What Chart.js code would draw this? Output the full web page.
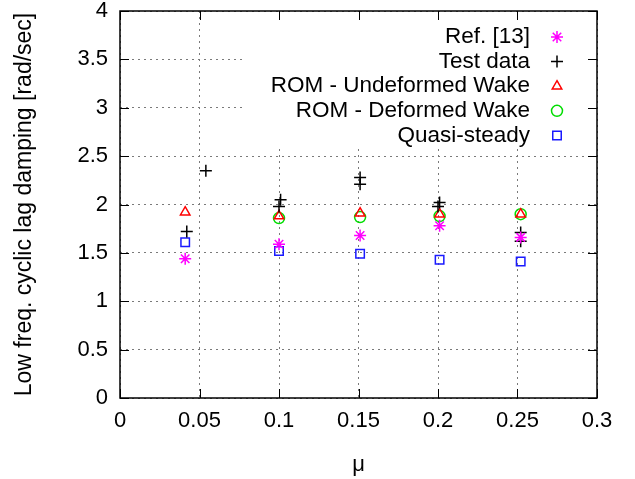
<!DOCTYPE html>
<html>
<head>
<meta charset="utf-8">
<script src="https://cdn.jsdelivr.net/npm/chart.js@4/dist/chart.umd.min.js"></script>
<style>
  body { margin: 0; background: #fff; }
  #wrap { width: 635px; height: 479px; }
</style>
</head>
<body>
<div id="wrap"><canvas id="myChart" width="635" height="479"></canvas></div>
<script>
// values
var refMu = [0.041, 0.1, 0.151, 0.201, 0.252];
var refVal = [1.44, 1.59, 1.68, 1.78, 1.66];

var testMu = [0.042, 0.054, 0.1, 0.101, 0.151, 0.151, 0.2, 0.201, 0.252, 0.252];
var testVal = [1.72, 2.35, 1.98, 2.05, 2.21, 2.28, 1.98, 2.02, 1.62, 1.71];

var romUMu = [0.041, 0.1, 0.151, 0.201, 0.252];
var romUVal = [1.92, 1.88, 1.91, 1.90, 1.90];

var romDMu = [0.1, 0.151, 0.201, 0.252];
var romDVal = [1.86, 1.87, 1.88, 1.90];

var qsMu = [0.041, 0.1, 0.151, 0.201, 0.252];
var qsVal = [1.61, 1.52, 1.49, 1.43, 1.41];

var seriesNames = ['Ref. [13]', 'Test data', 'ROM - Undeformed Wake', 'ROM - Deformed Wake', 'Quasi-steady'];

var FONT = 'Liberation Sans, Arial, Helvetica, sans-serif';

function toPoints(xs, ys) {
    var pts = [];
    for (var i = 0; i < xs.length; i++) {
        pts.push({x: xs[i], y: ys[i]});
    }
    return pts;
}

function makeSet(label, xs, ys, style, color, radius) {
    return {
        label: label,
        data: toPoints(xs, ys),
        showLine: false,
        pointStyle: style,
        pointRadius: radius,
        pointHoverRadius: radius,
        pointBorderWidth: 1.5,
        borderColor: color,
        backgroundColor: 'rgba(0,0,0,0)'
    };
}

// legend box like gnuplot's opaque key, plus inward ticks and the frame
var gnuplotLook = {
    id: 'gnuplotLook',
    beforeDatasetsDraw: function(chart) {
        var ctx = chart.ctx;
        var a = chart.chartArea;
        ctx.save();
        ctx.fillStyle = '#fff';
        ctx.fillRect(246, a.top + 1, a.right - 247, 137);
        ctx.restore();
    },
    afterDraw: function(chart) {
        var ctx = chart.ctx;
        var a = chart.chartArea;
        var xs = chart.scales.x, ys = chart.scales.y;
        ctx.save();
        ctx.strokeStyle = '#000';
        ctx.lineWidth = 1;
        ctx.beginPath();
        xs.ticks.forEach(function(t) {
            var px = Math.round(xs.getPixelForValue(t.value)) + 0.5;
            ctx.moveTo(px, a.bottom); ctx.lineTo(px, a.bottom - 9);
            ctx.moveTo(px, a.top); ctx.lineTo(px, a.top + 9);
        });
        ys.ticks.forEach(function(t) {
            var py = Math.round(ys.getPixelForValue(t.value)) + 0.5;
            ctx.moveTo(a.left, py); ctx.lineTo(a.left + 9, py);
            ctx.moveTo(a.right, py); ctx.lineTo(a.right - 9, py);
        });
        ctx.stroke();
        ctx.lineWidth = 1.5;
        ctx.strokeRect(a.left, a.top, a.right - a.left, a.bottom - a.top);

        // key
        ctx.font = '22.5px ' + FONT;
        ctx.textAlign = 'right';
        ctx.textBaseline = 'middle';
        chart.data.datasets.forEach(function(ds, i) {
            var y = 37 + i * 24.6;
            ctx.fillStyle = '#000';
            ctx.fillText(ds.label, 530, y);
            ctx.strokeStyle = ds.borderColor;
            ctx.fillStyle = 'rgba(0,0,0,0)';
            ctx.lineWidth = 1.5;
            Chart.helpers.drawPoint(ctx, {
                pointStyle: ds.pointStyle,
                radius: ds.pointRadius,
                rotation: 0,
                borderWidth: 1.5
            }, 557, y);
        });
        ctx.restore();
    }
};

var ctx = document.getElementById('myChart').getContext('2d');
var chart = new Chart(ctx, {
    type: 'scatter',
    data: {
        datasets: [
            makeSet(seriesNames[0], refMu, refVal, 'star', '#ff00ff', 6),
            makeSet(seriesNames[1], testMu, testVal, 'cross', '#000000', 6),
            makeSet(seriesNames[2], romUMu, romUVal, 'triangle', '#ff0000', 5.5),
            makeSet(seriesNames[3], romDMu, romDVal, 'circle', '#00dd00', 5.5),
            makeSet(seriesNames[4], qsMu, qsVal, 'rect', '#1a1aff', 6)
        ]
    },
    options: {
        responsive: false,
        animation: false,
        events: [],
        layout: { padding: { top: 11, right: 38, left: 0, bottom: 0 } },
        plugins: {
            legend: { display: false },
            tooltip: { enabled: false }
        },
        scales: {
            x: {
                type: 'linear',
                min: 0,
                max: 0.3,
                afterFit: function(scale) {
                    scale.height = 81;
                    scale.paddingLeft = 0;
                    scale.paddingRight = 0;
                },
                ticks: {
                    stepSize: 0.05,
                    padding: 10,
                    color: '#000',
                    font: { family: FONT, size: 22 },
                    maxRotation: 0,
                    callback: function(v) { return String(+v.toFixed(2)); }
                },
                grid: { color: '#7a7a7a', lineWidth: 1, drawTicks: false },
                border: { display: false, dash: [2, 4] },
                title: {
                    display: true,
                    text: 'μ',
                    color: '#000',
                    font: { family: FONT, size: 22 },
                    padding: { top: 0, bottom: 1 }
                }
            },
            y: {
                type: 'linear',
                min: 0,
                max: 4,
                afterFit: function(scale) {
                    scale.width = 120;
                    scale.paddingTop = 0;
                    scale.paddingBottom = 0;
                },
                ticks: {
                    stepSize: 0.5,
                    padding: 12,
                    color: '#000',
                    font: { family: FONT, size: 22 },
                    callback: function(v) { return String(+v.toFixed(1)); }
                },
                grid: { color: '#7a7a7a', lineWidth: 1, drawTicks: false },
                border: { display: false, dash: [2, 4] },
                title: {
                    display: true,
                    text: 'Low freq. cyclic lag damping [rad/sec]',
                    color: '#000',
                    font: { family: FONT, size: 23 },
                    padding: { top: 11, bottom: 0 }
                }
            }
        }
    },
    plugins: [gnuplotLook]
});
</script>
</body>
</html>
